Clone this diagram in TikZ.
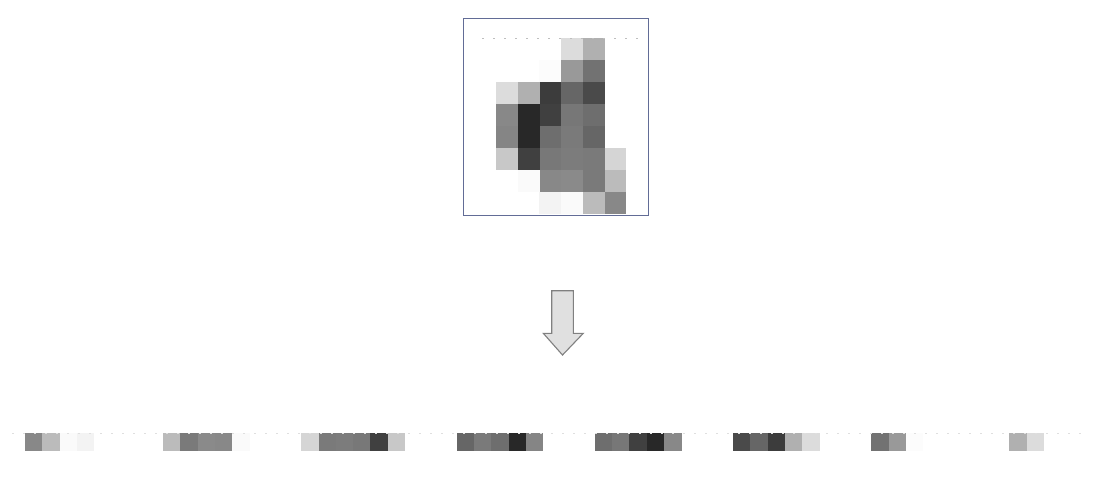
\documentclass[tikz,border=0pt]{standalone}
\usetikzlibrary{calc}
\definecolor{framecol}{RGB}{98,108,150}
\definecolor{arrowfill}{RGB}{224,224,224}
\definecolor{arrowline}{RGB}{128,128,128}
\definecolor{dotcol}{RGB}{190,190,190}
\tikzset{
  framebox/.style={draw=framecol, line width=0.9pt, minimum width=184.5pt, minimum height=196.5pt, inner sep=0pt},
  blockarrow/.style={fill=arrowfill, draw=arrowline, line width=1.1pt, line join=miter},
  dotline/.style={draw=dotcol, line width=1.2pt, dash pattern=on 1.5pt off 9.5pt},
}
\begin{document}
\begin{tikzpicture}[x=1pt,y=-1pt]
\useasboundingbox (0,0) rectangle (1094,480);
\fill[white] (0,0) rectangle (1094,480);
% pixel data (0-255, 255 = white), flattened order
\foreach \rowdata [count=\r from 0] in {
  {255,136,187,250,243,255,255,255},
  {255,187,122,138,136,250,255,255},
  {255,213,122,124,120,64,200,255},
  {255,255,102,122,110,40,133,255},
  {255,255,110,119,64,40,136,255},
  {255,255,74,102,60,176,220,255},
  {255,255,114,153,252,255,255,255},
  {255,255,176,220,255,255,255,255}}{
  \foreach \v [count=\c from 0] in \rowdata {
    \ifnum\v<255
      \definecolor{pix}{RGB}{\v,\v,\v}
      % flattened row
      \pgfmathsetmacro{\bx}{7.73+(8*\r+\c)*17.27}
      \fill[pix] (\bx,433) rectangle ++(17.5,17.7);
      % 8x8 image (rotated view)
      \pgfmathsetmacro{\tx}{474.3+(7-\c)*21.68}
      \pgfmathsetmacro{\ty}{38.3+(7-\r)*21.88}
      \fill[pix] (\tx,\ty) rectangle ++(21.9,22.1);
    \fi
  }
}
% faint dotted edges
\draw[dotline] (482,38.5) -- (646,38.5);
\draw[dotline, draw=dotcol!50] (12,433.5) -- (1090,433.5);
% frame round the image
\node[framebox] (digit) at (555.75,116.75) {};
% block arrow pointing down
\coordinate (arrowtop) at (562.5,290.7);
\draw[blockarrow] (551.7,290.7) -- (573.3,290.7) -- (573.3,333.3) -- (583.3,333.3)
  -- (562.5,355) -- (543.3,333.3) -- (551.7,333.3) -- cycle;
\end{tikzpicture}
\end{document}
